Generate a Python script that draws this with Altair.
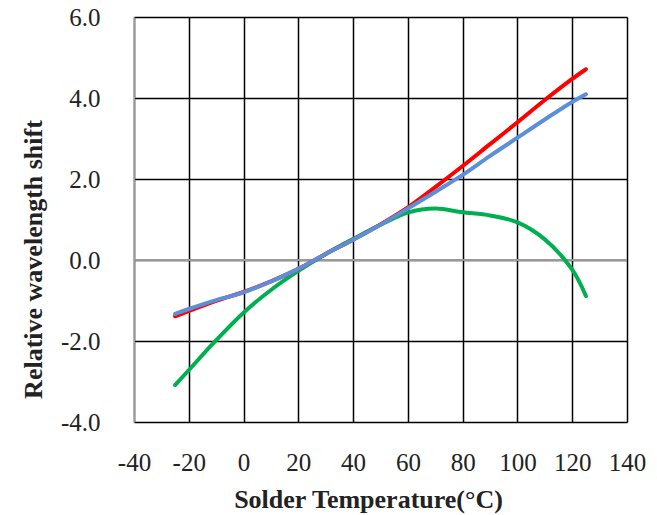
import altair as alt
import pandas as pd

temps = [-25, -20, -10, 0, 10, 20, 30, 40, 50, 60, 70, 80, 90, 100, 110, 120, 125]
red_vals = [-1.39, -1.26, -1.01, -0.79, -0.53, -0.22, 0.15, 0.5, 0.88, 1.3, 1.8, 2.32, 2.86, 3.4, 3.95, 4.47, 4.71]
blue_vals = [-1.33, -1.21, -0.99, -0.8, -0.53, -0.22, 0.15, 0.5, 0.87, 1.27, 1.68, 2.1, 2.57, 3.02, 3.47, 3.9, 4.09]
green_vals = [-3.09, -2.72, -1.98, -1.3, -0.74, -0.27, 0.15, 0.52, 0.87, 1.17, 1.27, 1.18, 1.1, 0.93, 0.51, -0.24, -0.89]

series = ["green", "red", "blue"]
colors = ["#00B050", "#FF0000", "#5B8FD9"]
values = {"green": green_vals, "red": red_vals, "blue": blue_vals}

rows = []
for i, s in enumerate(series):
    for t, v in zip(temps, values[s]):
        rows.append({"t": t, "v": v, "s": s, "o": i})
df = pd.DataFrame(rows)

FONT = "Liberation Serif"
MINUS_FIX = "replace(datum.label, '\u2212', '-')"

x = alt.X("t:Q", scale=alt.Scale(domain=[-40, 140], nice=False, zero=False),
          axis=alt.Axis(values=list(range(-40, 141, 20)), title="Solder Temperature(°C)",
                        labelExpr=MINUS_FIX, labelOverlap=False, labelFlush=False,
                        grid=True, gridColor="black", gridWidth=1.5, gridOpacity=1,
                        domain=False, ticks=False, labelPadding=28,
                        labelFont=FONT, labelFontSize=25, labelColor="#222",
                        titleFont=FONT, titleFontSize=26, titleFontWeight="bold",
                        titleColor="#222", titleX=234, titleY=77, titleBaseline="middle"))
y = alt.Y("v:Q", scale=alt.Scale(domain=[-4, 6], nice=False, zero=False),
          axis=alt.Axis(values=list(range(-4, 7, 2)), format=".1f", title="Relative wavelength shift",
                        labelExpr=MINUS_FIX, labelOverlap=False, labelFlush=False,
                        grid=True, gridColor="black", gridWidth=1.5, gridOpacity=1,
                        domain=True, domainColor="#999", domainWidth=1.5, ticks=False, labelPadding=34,
                        labelFont=FONT, labelFontSize=25, labelColor="#222",
                        titleFont=FONT, titleFontSize=26, titleFontWeight="bold",
                        titleColor="#222", titleX=-101, titleY=242, titleBaseline="middle"))

zero = alt.Chart(pd.DataFrame({"v": [0]})).mark_rule(color="#999", strokeWidth=2).encode(
    y=alt.Y("v:Q", scale=alt.Scale(domain=[-4, 6], nice=False, zero=False)))

lines = alt.Chart(df).mark_line(strokeWidth=4, interpolate="catmull-rom", strokeCap="round").encode(
    x=x, y=y,
    color=alt.Color("s:N", scale=alt.Scale(domain=series, range=colors), legend=None),
    order="t:Q",
    detail="s:N",
)

chart = alt.layer(zero, lines).properties(
    width=493, height=405,
    autosize=alt.AutoSizeParams(type="none"),
    padding={"left": 134, "top": 17, "right": 30, "bottom": 93},
).configure_view(stroke="black", strokeWidth=1.5).configure(background="white")

chart.save("out.html", embed_options={"renderer": "svg", "actions": False})
